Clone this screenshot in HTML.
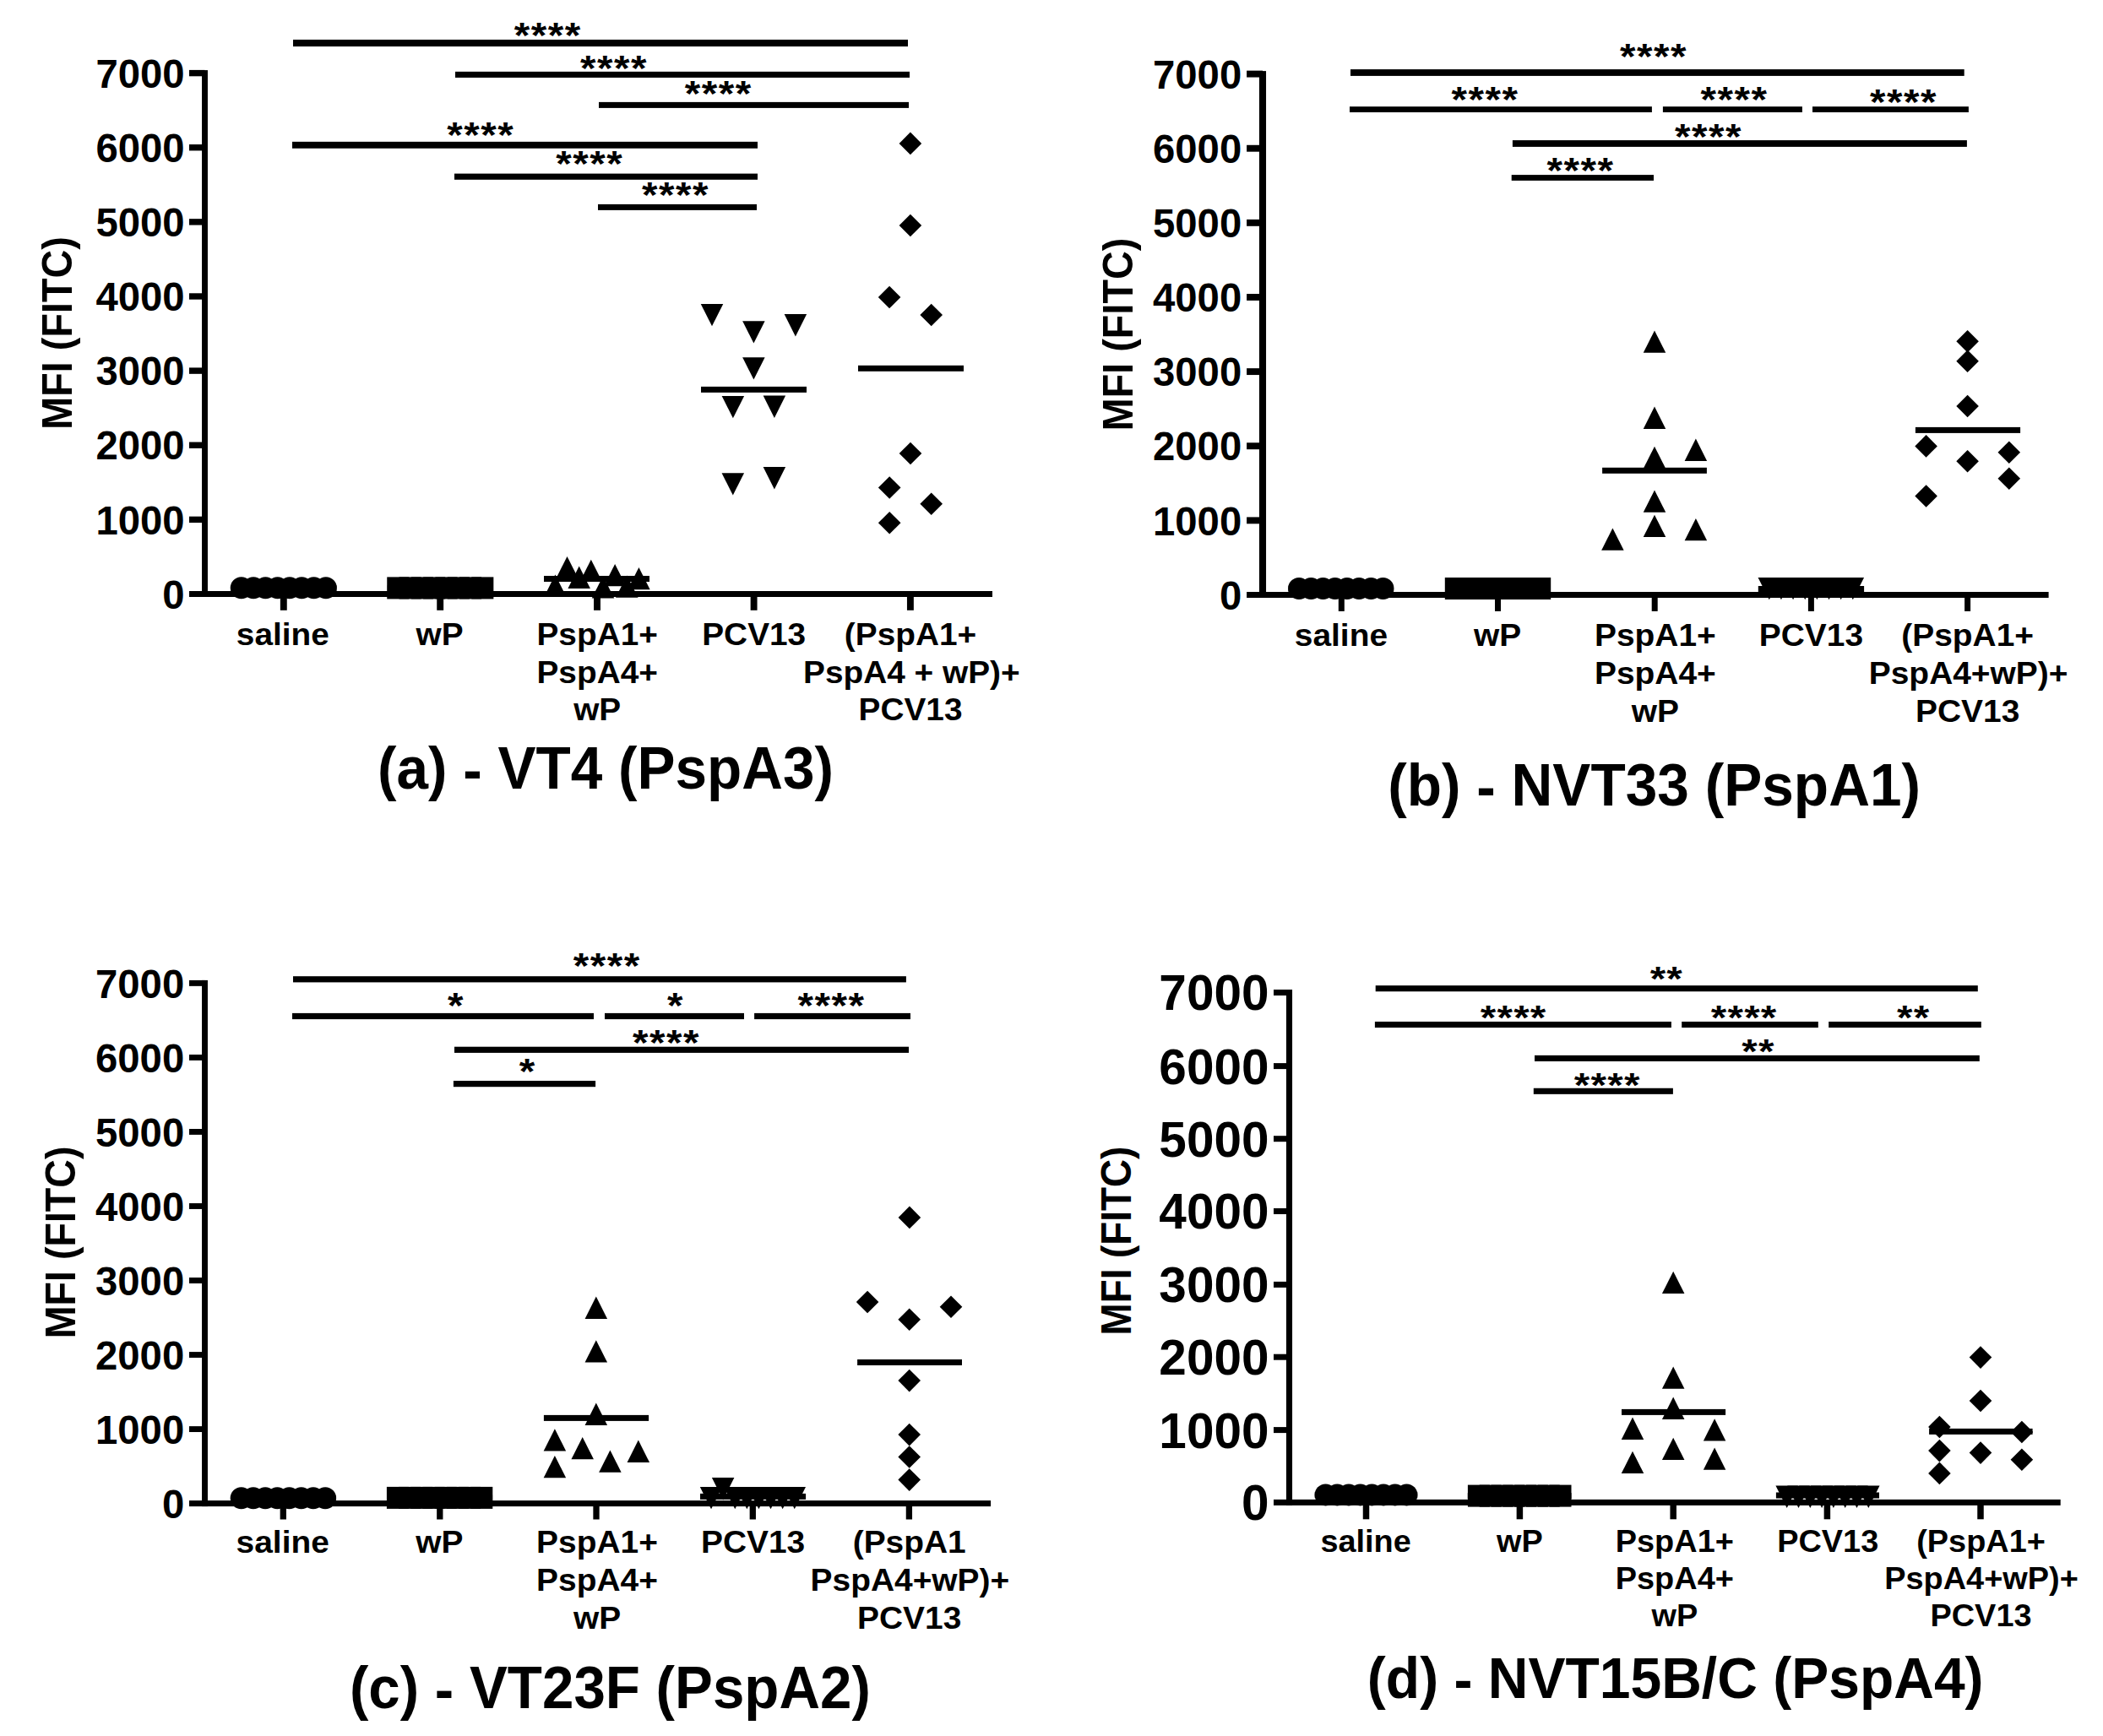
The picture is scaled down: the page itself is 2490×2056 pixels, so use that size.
<!DOCTYPE html>
<html lang="en">
<head>
<meta charset="utf-8">
<title>MFI (FITC) - PspA binding figure</title>
<style>
html,body{margin:0;padding:0;background:#fff;}
body{width:2490px;height:2056px;overflow:hidden;}
svg{display:block;}
svg text{font-family:"Liberation Sans", sans-serif;font-weight:700;fill:#000;}
</style>
</head>
<body>
<svg width="2490" height="2056" viewBox="0 0 2490 2056" fill="#000" shape-rendering="geometricPrecision">
<rect x="0" y="0" width="2490" height="2056" fill="#fff"/>
<g>
<rect x="239.05" y="83.1" width="6.9" height="623.9"/>
<rect x="224" y="700" width="951" height="7"/>
<text transform="translate(218.6 720.73) scale(1 1.0280)" font-size="47.3" text-anchor="end">0</text>
<rect x="224" y="611.67" width="18.5" height="7.4"/>
<text transform="translate(218.6 632.6) scale(1 1.0280)" font-size="47.3" text-anchor="end">1000</text>
<rect x="224" y="523.54" width="18.5" height="7.4"/>
<text transform="translate(218.6 544.47) scale(1 1.0280)" font-size="47.3" text-anchor="end">2000</text>
<rect x="224" y="435.41" width="18.5" height="7.4"/>
<text transform="translate(218.6 456.34) scale(1 1.0280)" font-size="47.3" text-anchor="end">3000</text>
<rect x="224" y="347.29" width="18.5" height="7.4"/>
<text transform="translate(218.6 368.21) scale(1 1.0280)" font-size="47.3" text-anchor="end">4000</text>
<rect x="224" y="259.16" width="18.5" height="7.4"/>
<text transform="translate(218.6 280.08) scale(1 1.0280)" font-size="47.3" text-anchor="end">5000</text>
<rect x="224" y="171.03" width="18.5" height="7.4"/>
<text transform="translate(218.6 191.96) scale(1 1.0280)" font-size="47.3" text-anchor="end">6000</text>
<rect x="224" y="82.9" width="18.5" height="7.4"/>
<text transform="translate(218.6 103.83) scale(1 1.0280)" font-size="47.3" text-anchor="end">7000</text>
<rect x="331.85" y="703.5" width="7.9" height="19.3"/>
<rect x="517.25" y="703.5" width="7.9" height="19.3"/>
<rect x="703.05" y="703.5" width="7.9" height="19.3"/>
<rect x="888.65" y="703.5" width="7.9" height="19.3"/>
<rect x="1073.95" y="703.5" width="7.9" height="19.3"/>
<text transform="translate(84.8 394.4) rotate(-90) scale(1 1.0750)" font-size="46.8" text-anchor="middle">MFI (FITC)</text>
<text transform="translate(334.8 763.9) scale(1 0.9700)" font-size="38.8" text-anchor="middle">saline</text>
<text transform="translate(520.6 763.9) scale(1 0.9700)" font-size="38.8" text-anchor="middle">wP</text>
<text transform="translate(707.2 763.9) scale(1 0.9700)" font-size="38.8" text-anchor="middle">PspA1+</text>
<text transform="translate(707.2 808.6) scale(1 0.9700)" font-size="38.8" text-anchor="middle">PspA4+</text>
<text transform="translate(707.2 853.3) scale(1 0.9700)" font-size="38.8" text-anchor="middle">wP</text>
<text transform="translate(892.7 763.9) scale(1 0.9700)" font-size="38.8" text-anchor="middle">PCV13</text>
<text transform="translate(1078 763.9) scale(1 0.9700)" font-size="38.8" text-anchor="middle">(PspA1+</text>
<text transform="translate(1079.4 808.6) scale(1 0.9700)" font-size="38.8" text-anchor="middle">PspA4 + wP)+</text>
<text transform="translate(1078 853.3) scale(1 0.9700)" font-size="38.8" text-anchor="middle">PCV13</text>
<text transform="translate(717 933.8) scale(1 1.0450)" font-size="67.5" text-anchor="middle">(a) <tspan dy="2.2">-</tspan><tspan dy="-2.2"> </tspan>VT4 (PspA3)</text>
<rect x="347" y="46.95" width="728" height="8.1"/>
<rect x="539" y="84.85" width="538" height="7.1"/>
<rect x="709" y="120.9" width="367" height="7"/>
<rect x="346" y="167.85" width="551" height="7.9"/>
<rect x="538" y="205.6" width="359" height="7.2"/>
<rect x="708" y="241.9" width="188" height="7"/>
<text transform="translate(608.71 56.16) scale(1 0.9100)" font-size="47.5" text-anchor="start" letter-spacing="1.51">****</text>
<text transform="translate(687.01 95.16) scale(1 0.9100)" font-size="47.5" text-anchor="start" letter-spacing="1.51">****</text>
<text transform="translate(810.81 125.46) scale(1 0.9100)" font-size="47.5" text-anchor="start" letter-spacing="1.51">****</text>
<text transform="translate(529.31 174.46) scale(1 0.9100)" font-size="47.5" text-anchor="start" letter-spacing="1.51">****</text>
<text transform="translate(658.21 208.46) scale(1 0.9100)" font-size="47.5" text-anchor="start" letter-spacing="1.51">****</text>
<text transform="translate(760.01 245.36) scale(1 0.9100)" font-size="47.5" text-anchor="start" letter-spacing="1.51">****</text>
<rect x="273.3" y="693.2" width="125" height="7"/>
<rect x="458.8" y="693.2" width="125" height="7"/>
<rect x="644" y="682" width="125" height="7"/>
<rect x="830" y="457.9" width="125" height="7"/>
<rect x="1016" y="432.8" width="125" height="7"/>
<circle cx="285.75" cy="696.3" r="13"/>
<circle cx="300.05" cy="696.3" r="13"/>
<circle cx="314.35" cy="696.3" r="13"/>
<circle cx="328.65" cy="696.3" r="13"/>
<circle cx="342.95" cy="696.3" r="13"/>
<circle cx="357.25" cy="696.3" r="13"/>
<circle cx="371.55" cy="696.3" r="13"/>
<circle cx="385.85" cy="696.3" r="13"/>
<rect x="458.25" y="683.4" width="26" height="26"/>
<rect x="472.55" y="683.4" width="26" height="26"/>
<rect x="486.85" y="683.4" width="26" height="26"/>
<rect x="501.15" y="683.4" width="26" height="26"/>
<rect x="515.45" y="683.4" width="26" height="26"/>
<rect x="529.75" y="683.4" width="26" height="26"/>
<rect x="544.05" y="683.4" width="26" height="26"/>
<rect x="558.35" y="683.4" width="26" height="26"/>
<path d="M657.38 680.6L670.62 706.9H644.12Z"/>
<path d="M671.52 658.9L684.77 685.2H658.27Z"/>
<path d="M685.67 670.6L698.92 696.9H672.42Z"/>
<path d="M699.82 662.8L713.07 689.1H686.57Z"/>
<path d="M713.98 682.3L727.23 708.6H700.73Z"/>
<path d="M728.12 668L741.38 694.3H714.88Z"/>
<path d="M742.27 681.5L755.52 707.8H729.02Z"/>
<path d="M756.42 671.9L769.67 698.2H743.17Z"/>
<path d="M829.75 360H856.25L843 386.3Z"/>
<path d="M879.15 380.2H905.65L892.4 406.5Z"/>
<path d="M928.65 372.1H955.15L941.9 398.4Z"/>
<path d="M879.15 423.3H905.65L892.4 449.6Z"/>
<path d="M854.65 469H881.15L867.9 495.3Z"/>
<path d="M903.65 468.6H930.15L916.9 494.9Z"/>
<path d="M854.55 560.3H881.05L867.8 586.6Z"/>
<path d="M903.65 553.1H930.15L916.9 579.4Z"/>
<path d="M1077.9 156.6L1091.2 169.9L1077.9 183.2L1064.6 169.9Z"/>
<path d="M1077.9 253.7L1091.2 267L1077.9 280.3L1064.6 267Z"/>
<path d="M1053.1 338.7L1066.4 352L1053.1 365.3L1039.8 352Z"/>
<path d="M1102.7 359.7L1116 373L1102.7 386.3L1089.4 373Z"/>
<path d="M1078 523.7L1091.3 537L1078 550.3L1064.7 537Z"/>
<path d="M1053.2 564.2L1066.5 577.5L1053.2 590.8L1039.9 577.5Z"/>
<path d="M1102.7 583.5L1116 596.8L1102.7 610.1L1089.4 596.8Z"/>
<path d="M1053.2 606L1066.5 619.3L1053.2 632.6L1039.9 619.3Z"/>
</g>
<g>
<rect x="1490.95" y="84.1" width="8.1" height="623.9"/>
<rect x="1476.1" y="701" width="949.5" height="7"/>
<text transform="translate(1470.2 721.73) scale(1 1.0280)" font-size="47.3" text-anchor="end">0</text>
<rect x="1476.1" y="612.42" width="18.9" height="7.9"/>
<text transform="translate(1470.2 633.6) scale(1 1.0280)" font-size="47.3" text-anchor="end">1000</text>
<rect x="1476.1" y="524.29" width="18.9" height="7.9"/>
<text transform="translate(1470.2 545.47) scale(1 1.0280)" font-size="47.3" text-anchor="end">2000</text>
<rect x="1476.1" y="436.16" width="18.9" height="7.9"/>
<text transform="translate(1470.2 457.34) scale(1 1.0280)" font-size="47.3" text-anchor="end">3000</text>
<rect x="1476.1" y="348.04" width="18.9" height="7.9"/>
<text transform="translate(1470.2 369.21) scale(1 1.0280)" font-size="47.3" text-anchor="end">4000</text>
<rect x="1476.1" y="259.91" width="18.9" height="7.9"/>
<text transform="translate(1470.2 281.08) scale(1 1.0280)" font-size="47.3" text-anchor="end">5000</text>
<rect x="1476.1" y="171.78" width="18.9" height="7.9"/>
<text transform="translate(1470.2 192.96) scale(1 1.0280)" font-size="47.3" text-anchor="end">6000</text>
<rect x="1476.1" y="83.65" width="18.9" height="7.9"/>
<text transform="translate(1470.2 104.83) scale(1 1.0280)" font-size="47.3" text-anchor="end">7000</text>
<rect x="1584.8" y="704.5" width="7" height="19.4"/>
<rect x="1770" y="704.5" width="7" height="19.4"/>
<rect x="1955.7" y="704.5" width="7" height="19.4"/>
<rect x="2140.9" y="704.5" width="7" height="19.4"/>
<rect x="2326.1" y="704.5" width="7" height="19.4"/>
<text transform="translate(1340.9 396) rotate(-90) scale(1 1.0750)" font-size="46.8" text-anchor="middle">MFI (FITC)</text>
<text transform="translate(1587.9 764.5) scale(1 0.9700)" font-size="38.9" text-anchor="middle">saline</text>
<text transform="translate(1773.2 764.5) scale(1 0.9700)" font-size="38.9" text-anchor="middle">wP</text>
<text transform="translate(1959.9 764.5) scale(1 0.9700)" font-size="38.9" text-anchor="middle">PspA1+</text>
<text transform="translate(1959.9 809.6) scale(1 0.9700)" font-size="38.9" text-anchor="middle">PspA4+</text>
<text transform="translate(1959.9 854.7) scale(1 0.9700)" font-size="38.9" text-anchor="middle">wP</text>
<text transform="translate(2144.4 764.5) scale(1 0.9700)" font-size="38.9" text-anchor="middle">PCV13</text>
<text transform="translate(2329.7 764.5) scale(1 0.9700)" font-size="38.9" text-anchor="middle">(PspA1+</text>
<text transform="translate(2330.6 809.6) scale(1 0.9700)" font-size="38.9" text-anchor="middle">PspA4+wP)+</text>
<text transform="translate(2329.7 854.7) scale(1 0.9700)" font-size="38.9" text-anchor="middle">PCV13</text>
<text transform="translate(1958.6 953.8) scale(1 1.0450)" font-size="67.6" text-anchor="middle">(b) <tspan dy="2.2">-</tspan><tspan dy="-2.2"> </tspan>NVT33 (PspA1)</text>
<rect x="1599" y="82.1" width="726.7" height="7.8"/>
<rect x="1598" y="126.2" width="357.9" height="6.8"/>
<rect x="1968.9" y="126.2" width="165" height="6.8"/>
<rect x="2146" y="126.2" width="184.9" height="6.8"/>
<rect x="1790.9" y="166.1" width="538" height="7.8"/>
<rect x="1789.7" y="207.1" width="168.3" height="6.8"/>
<text transform="translate(1918.11 81.06) scale(1 0.9100)" font-size="47.5" text-anchor="start" letter-spacing="1.51">****</text>
<text transform="translate(1718.51 132.36) scale(1 0.9100)" font-size="47.5" text-anchor="start" letter-spacing="1.51">****</text>
<text transform="translate(2013.51 132.36) scale(1 0.9100)" font-size="47.5" text-anchor="start" letter-spacing="1.51">****</text>
<text transform="translate(2213.91 135.06) scale(1 0.9100)" font-size="47.5" text-anchor="start" letter-spacing="1.51">****</text>
<text transform="translate(1982.91 176.36) scale(1 0.9100)" font-size="47.5" text-anchor="start" letter-spacing="1.51">****</text>
<text transform="translate(1831.41 216.36) scale(1 0.9100)" font-size="47.5" text-anchor="start" letter-spacing="1.51">****</text>
<rect x="1525.5" y="693.5" width="124.5" height="7"/>
<rect x="1711.3" y="693.5" width="124.4" height="7"/>
<rect x="1897.1" y="553.8" width="123.8" height="7"/>
<rect x="2081.8" y="694" width="125.3" height="7"/>
<rect x="2267.9" y="505.9" width="124.2" height="7"/>
<circle cx="1538.1" cy="697" r="13"/>
<circle cx="1552.3" cy="697" r="13"/>
<circle cx="1566.5" cy="697" r="13"/>
<circle cx="1580.7" cy="697" r="13"/>
<circle cx="1594.9" cy="697" r="13"/>
<circle cx="1609.1" cy="697" r="13"/>
<circle cx="1623.3" cy="697" r="13"/>
<circle cx="1637.5" cy="697" r="13"/>
<rect x="1710.8" y="684" width="26" height="26"/>
<rect x="1725" y="684" width="26" height="26"/>
<rect x="1739.2" y="684" width="26" height="26"/>
<rect x="1753.4" y="684" width="26" height="26"/>
<rect x="1767.6" y="684" width="26" height="26"/>
<rect x="1781.8" y="684" width="26" height="26"/>
<rect x="1796" y="684" width="26" height="26"/>
<rect x="1810.2" y="684" width="26" height="26"/>
<path d="M1959 391.5L1972.25 417.8H1945.75Z"/>
<path d="M1959 481.6L1972.25 507.9H1945.75Z"/>
<path d="M2007.9 519.6L2021.15 545.9H1994.65Z"/>
<path d="M1959 528.7L1972.25 555H1945.75Z"/>
<path d="M1959 580.5L1972.25 606.8H1945.75Z"/>
<path d="M1959 609.7L1972.25 636H1945.75Z"/>
<path d="M2007.9 613.9L2021.15 640.2H1994.65Z"/>
<path d="M1909.4 625.5L1922.65 651.8H1896.15Z"/>
<path d="M2081.53 684H2108.03L2094.78 710.3Z"/>
<path d="M2095.68 684H2122.18L2108.93 710.3Z"/>
<path d="M2109.83 684H2136.33L2123.08 710.3Z"/>
<path d="M2123.98 684H2150.48L2137.23 710.3Z"/>
<path d="M2138.12 684H2164.62L2151.38 710.3Z"/>
<path d="M2152.28 684H2178.78L2165.53 710.3Z"/>
<path d="M2166.43 684H2192.93L2179.68 710.3Z"/>
<path d="M2180.58 684H2207.08L2193.83 710.3Z"/>
<path d="M2329.6 391L2342.9 404.3L2329.6 417.6L2316.3 404.3Z"/>
<path d="M2329.6 414.5L2342.9 427.8L2329.6 441.1L2316.3 427.8Z"/>
<path d="M2329.6 467.7L2342.9 481L2329.6 494.3L2316.3 481Z"/>
<path d="M2280.6 515.1L2293.9 528.4L2280.6 541.7L2267.3 528.4Z"/>
<path d="M2378.8 522.5L2392.1 535.8L2378.8 549.1L2365.5 535.8Z"/>
<path d="M2329.6 533L2342.9 546.3L2329.6 559.6L2316.3 546.3Z"/>
<path d="M2378.8 553.4L2392.1 566.7L2378.8 580L2365.5 566.7Z"/>
<path d="M2280.6 574.2L2293.9 587.5L2280.6 600.8L2267.3 587.5Z"/>
</g>
<g>
<rect x="239.05" y="1160.9" width="6.9" height="623.2"/>
<rect x="224" y="1777.1" width="949.1" height="7"/>
<text transform="translate(218.2 1797.83) scale(1 1.0280)" font-size="47.3" text-anchor="end">0</text>
<rect x="224" y="1689.12" width="18.5" height="6.9"/>
<text transform="translate(218.2 1709.8) scale(1 1.0280)" font-size="47.3" text-anchor="end">1000</text>
<rect x="224" y="1601.09" width="18.5" height="6.9"/>
<text transform="translate(218.2 1621.77) scale(1 1.0280)" font-size="47.3" text-anchor="end">2000</text>
<rect x="224" y="1513.06" width="18.5" height="6.9"/>
<text transform="translate(218.2 1533.74) scale(1 1.0280)" font-size="47.3" text-anchor="end">3000</text>
<rect x="224" y="1425.04" width="18.5" height="6.9"/>
<text transform="translate(218.2 1445.71) scale(1 1.0280)" font-size="47.3" text-anchor="end">4000</text>
<rect x="224" y="1337.01" width="18.5" height="6.9"/>
<text transform="translate(218.2 1357.68) scale(1 1.0280)" font-size="47.3" text-anchor="end">5000</text>
<rect x="224" y="1248.98" width="18.5" height="6.9"/>
<text transform="translate(218.2 1269.66) scale(1 1.0280)" font-size="47.3" text-anchor="end">6000</text>
<rect x="224" y="1160.95" width="18.5" height="6.9"/>
<text transform="translate(218.2 1181.63) scale(1 1.0280)" font-size="47.3" text-anchor="end">7000</text>
<rect x="331.65" y="1780.6" width="7.3" height="18.9"/>
<rect x="517.15" y="1780.6" width="7.3" height="18.9"/>
<rect x="702.35" y="1780.6" width="7.3" height="18.9"/>
<rect x="887.65" y="1780.6" width="7.3" height="18.9"/>
<rect x="1072.75" y="1780.6" width="7.3" height="18.9"/>
<text transform="translate(88.8 1471.4) rotate(-90) scale(1 1.0750)" font-size="46.6" text-anchor="middle">MFI (FITC)</text>
<text transform="translate(334.7 1839.3) scale(1 0.9700)" font-size="38.9" text-anchor="middle">saline</text>
<text transform="translate(520.3 1839.3) scale(1 0.9700)" font-size="38.9" text-anchor="middle">wP</text>
<text transform="translate(707 1839.3) scale(1 0.9700)" font-size="38.9" text-anchor="middle">PspA1+</text>
<text transform="translate(707 1884) scale(1 0.9700)" font-size="38.9" text-anchor="middle">PspA4+</text>
<text transform="translate(707 1928.7) scale(1 0.9700)" font-size="38.9" text-anchor="middle">wP</text>
<text transform="translate(891.6 1839.3) scale(1 0.9700)" font-size="38.9" text-anchor="middle">PCV13</text>
<text transform="translate(1076.7 1839.3) scale(1 0.9700)" font-size="38.9" text-anchor="middle">(PspA1</text>
<text transform="translate(1077.4 1884) scale(1 0.9700)" font-size="38.9" text-anchor="middle">PspA4+wP)+</text>
<text transform="translate(1076.7 1928.7) scale(1 0.9700)" font-size="38.9" text-anchor="middle">PCV13</text>
<text transform="translate(722.4 2023) scale(1 1.0450)" font-size="67.3" text-anchor="middle">(c) <tspan dy="2.2">-</tspan><tspan dy="-2.2"> </tspan>VT23F (PspA2)</text>
<rect x="347" y="1156.2" width="725.9" height="7.2"/>
<rect x="346" y="1199.9" width="357" height="7.2"/>
<rect x="716" y="1199.9" width="165" height="7.2"/>
<rect x="893.1" y="1199.9" width="184.9" height="7.2"/>
<rect x="538" y="1239.7" width="538" height="7.2"/>
<rect x="536.9" y="1280" width="168.2" height="7.2"/>
<text transform="translate(678.71 1158.06) scale(1 0.9100)" font-size="47.5" text-anchor="start" letter-spacing="1.51">****</text>
<text transform="translate(530.01 1205.36) scale(1 0.9100)" font-size="47.5" text-anchor="start" letter-spacing="1.51">*</text>
<text transform="translate(790.01 1205.16) scale(1 0.9100)" font-size="47.5" text-anchor="start" letter-spacing="1.51">*</text>
<text transform="translate(944.61 1205.36) scale(1 0.9100)" font-size="47.5" text-anchor="start" letter-spacing="1.51">****</text>
<text transform="translate(749.01 1248.96) scale(1 0.9100)" font-size="47.5" text-anchor="start" letter-spacing="1.51">****</text>
<text transform="translate(614.81 1283.36) scale(1 0.9100)" font-size="47.5" text-anchor="start" letter-spacing="1.51">*</text>
<rect x="273.4" y="1770.8" width="124" height="7"/>
<rect x="458.1" y="1770.5" width="125" height="7"/>
<rect x="643.9" y="1675.9" width="124.2" height="7"/>
<rect x="829" y="1768.9" width="125.1" height="7"/>
<rect x="1015.1" y="1610" width="123.9" height="7"/>
<circle cx="285.7" cy="1774.3" r="13"/>
<circle cx="299.9" cy="1774.3" r="13"/>
<circle cx="314.1" cy="1774.3" r="13"/>
<circle cx="328.3" cy="1774.3" r="13"/>
<circle cx="342.5" cy="1774.3" r="13"/>
<circle cx="356.7" cy="1774.3" r="13"/>
<circle cx="370.9" cy="1774.3" r="13"/>
<circle cx="385.1" cy="1774.3" r="13"/>
<rect x="457.9" y="1760.9" width="26" height="26"/>
<rect x="472.1" y="1760.9" width="26" height="26"/>
<rect x="486.3" y="1760.9" width="26" height="26"/>
<rect x="500.5" y="1760.9" width="26" height="26"/>
<rect x="514.7" y="1760.9" width="26" height="26"/>
<rect x="528.9" y="1760.9" width="26" height="26"/>
<rect x="543.1" y="1760.9" width="26" height="26"/>
<rect x="557.3" y="1760.9" width="26" height="26"/>
<path d="M705.8 1535.6L719.05 1561.9H692.55Z"/>
<path d="M705.8 1587.3L719.05 1613.6H692.55Z"/>
<path d="M705.8 1661.6L719.05 1687.9H692.55Z"/>
<path d="M656.9 1692.2L670.15 1718.5H643.65Z"/>
<path d="M689.7 1702L702.95 1728.3H676.45Z"/>
<path d="M755.8 1705.6L769.05 1731.9H742.55Z"/>
<path d="M722.4 1717.5L735.65 1743.8H709.15Z"/>
<path d="M656.9 1723.9L670.15 1750.2H643.65Z"/>
<path d="M828.8 1761H855.3L842.05 1787.3Z"/>
<path d="M842.9 1750.1H869.4L856.15 1776.4Z"/>
<path d="M857 1761H883.5L870.25 1787.3Z"/>
<path d="M871.1 1761H897.6L884.35 1787.3Z"/>
<path d="M885.2 1761H911.7L898.45 1787.3Z"/>
<path d="M899.3 1761H925.8L912.55 1787.3Z"/>
<path d="M913.4 1761H939.9L926.65 1787.3Z"/>
<path d="M927.5 1761H954L940.75 1787.3Z"/>
<path d="M1076.9 1428.6L1090.2 1441.9L1076.9 1455.2L1063.6 1441.9Z"/>
<path d="M1027.1 1528.7L1040.4 1542L1027.1 1555.3L1013.8 1542Z"/>
<path d="M1126 1534.5L1139.3 1547.8L1126 1561.1L1112.7 1547.8Z"/>
<path d="M1076.7 1549.4L1090 1562.7L1076.7 1576L1063.4 1562.7Z"/>
<path d="M1076.7 1621.8L1090 1635.1L1076.7 1648.4L1063.4 1635.1Z"/>
<path d="M1076.7 1685.8L1090 1699.1L1076.7 1712.4L1063.4 1699.1Z"/>
<path d="M1076.7 1712.2L1090 1725.5L1076.7 1738.8L1063.4 1725.5Z"/>
<path d="M1076.7 1739.3L1090 1752.6L1076.7 1765.9L1063.4 1752.6Z"/>
</g>
<g>
<rect x="1522.95" y="1172" width="7.1" height="610.9"/>
<rect x="1508" y="1775.9" width="931.7" height="7"/>
<text transform="translate(1502.5 1800.33) scale(1 1.0150)" font-size="58.5" text-anchor="end">0</text>
<rect x="1508" y="1690.1" width="18.5" height="7"/>
<text transform="translate(1502.5 1714.53) scale(1 1.0150)" font-size="58.5" text-anchor="end">1000</text>
<rect x="1508" y="1603.7" width="18.5" height="7"/>
<text transform="translate(1502.5 1628.13) scale(1 1.0150)" font-size="58.5" text-anchor="end">2000</text>
<rect x="1508" y="1517.9" width="18.5" height="7"/>
<text transform="translate(1502.5 1542.33) scale(1 1.0150)" font-size="58.5" text-anchor="end">3000</text>
<rect x="1508" y="1431" width="18.5" height="7"/>
<text transform="translate(1502.5 1455.43) scale(1 1.0150)" font-size="58.5" text-anchor="end">4000</text>
<rect x="1508" y="1345.2" width="18.5" height="7"/>
<text transform="translate(1502.5 1369.63) scale(1 1.0150)" font-size="58.5" text-anchor="end">5000</text>
<rect x="1508" y="1259.1" width="18.5" height="7"/>
<text transform="translate(1502.5 1283.53) scale(1 1.0150)" font-size="58.5" text-anchor="end">6000</text>
<rect x="1508" y="1172" width="18.5" height="7"/>
<text transform="translate(1502.5 1196.43) scale(1 1.0150)" font-size="58.5" text-anchor="end">7000</text>
<rect x="1613.75" y="1779.4" width="7.5" height="19.9"/>
<rect x="1795.65" y="1779.4" width="7.5" height="19.9"/>
<rect x="1977.45" y="1779.4" width="7.5" height="19.9"/>
<rect x="2159.65" y="1779.4" width="7.5" height="19.9"/>
<rect x="2341.25" y="1779.4" width="7.5" height="19.9"/>
<text transform="translate(1339.2 1469.6) rotate(-90) scale(1 1.0750)" font-size="45.8" text-anchor="middle">MFI (FITC)</text>
<text transform="translate(1617.1 1838.2) scale(1 0.9700)" font-size="37.9" text-anchor="middle">saline</text>
<text transform="translate(1799.3 1838.2) scale(1 0.9700)" font-size="37.9" text-anchor="middle">wP</text>
<text transform="translate(1982.8 1838.2) scale(1 0.9700)" font-size="37.9" text-anchor="middle">PspA1+</text>
<text transform="translate(1982.8 1882) scale(1 0.9700)" font-size="37.9" text-anchor="middle">PspA4+</text>
<text transform="translate(1982.8 1925.8) scale(1 0.9700)" font-size="37.9" text-anchor="middle">wP</text>
<text transform="translate(2164.2 1838.2) scale(1 0.9700)" font-size="37.9" text-anchor="middle">PCV13</text>
<text transform="translate(2345.5 1838.2) scale(1 0.9700)" font-size="37.9" text-anchor="middle">(PspA1+</text>
<text transform="translate(2346 1882) scale(1 0.9700)" font-size="37.9" text-anchor="middle">PspA4+wP)+</text>
<text transform="translate(2345.5 1925.8) scale(1 0.9700)" font-size="37.9" text-anchor="middle">PCV13</text>
<text transform="translate(1983.7 2010.6) scale(1 1.0450)" font-size="66" text-anchor="middle">(d) <tspan dy="2.2">-</tspan><tspan dy="-2.2"> </tspan>NVT15B/C (PspA4)</text>
<rect x="1628.7" y="1167.15" width="713.1" height="7.1"/>
<rect x="1627.9" y="1209.95" width="351" height="7.1"/>
<rect x="1991.2" y="1209.95" width="161.6" height="7.1"/>
<rect x="2165.2" y="1209.95" width="180.6" height="7.1"/>
<rect x="1817" y="1249.85" width="526.8" height="7.1"/>
<rect x="1815.8" y="1288.75" width="165.1" height="7.1"/>
<text transform="translate(1953.66 1173.03) scale(1 0.8550)" font-size="47.5" text-anchor="start" letter-spacing="1.21">**</text>
<text transform="translate(1752.76 1218.53) scale(1 0.8550)" font-size="47.5" text-anchor="start" letter-spacing="1.21">****</text>
<text transform="translate(2025.76 1218.53) scale(1 0.8550)" font-size="47.5" text-anchor="start" letter-spacing="1.21">****</text>
<text transform="translate(2245.96 1218.53) scale(1 0.8550)" font-size="47.5" text-anchor="start" letter-spacing="1.21">**</text>
<text transform="translate(2062.36 1258.83) scale(1 0.8550)" font-size="47.5" text-anchor="start" letter-spacing="1.21">**</text>
<text transform="translate(1863.86 1298.53) scale(1 0.8550)" font-size="47.5" text-anchor="start" letter-spacing="1.21">****</text>
<rect x="1556.8" y="1766.9" width="121.4" height="7"/>
<rect x="1737.8" y="1768.1" width="122.7" height="7"/>
<rect x="1920" y="1668.9" width="123.1" height="7"/>
<rect x="2102.9" y="1767.5" width="122.1" height="7"/>
<rect x="2284.1" y="1691.9" width="122.5" height="7"/>
<circle cx="1569.55" cy="1770.4" r="13"/>
<circle cx="1583.25" cy="1770.4" r="13"/>
<circle cx="1596.95" cy="1770.4" r="13"/>
<circle cx="1610.65" cy="1770.4" r="13"/>
<circle cx="1624.35" cy="1770.4" r="13"/>
<circle cx="1638.05" cy="1770.4" r="13"/>
<circle cx="1651.75" cy="1770.4" r="13"/>
<circle cx="1665.45" cy="1770.4" r="13"/>
<rect x="1737.9" y="1758.6" width="26" height="26"/>
<rect x="1751.7" y="1758.6" width="26" height="26"/>
<rect x="1765.5" y="1758.6" width="26" height="26"/>
<rect x="1779.3" y="1758.6" width="26" height="26"/>
<rect x="1793.1" y="1758.6" width="26" height="26"/>
<rect x="1806.9" y="1758.6" width="26" height="26"/>
<rect x="1820.7" y="1758.6" width="26" height="26"/>
<rect x="1834.5" y="1758.6" width="26" height="26"/>
<path d="M1981.2 1505.7L1994.45 1532H1967.95Z"/>
<path d="M1981.2 1618.4L1994.45 1644.7H1967.95Z"/>
<path d="M1981.2 1654.6L1994.45 1680.9H1967.95Z"/>
<path d="M1933 1678.6L1946.25 1704.9H1919.75Z"/>
<path d="M2030.1 1680.3L2043.35 1706.6H2016.85Z"/>
<path d="M1981.2 1702.8L1994.45 1729.1H1967.95Z"/>
<path d="M2030.1 1714.5L2043.35 1740.8H2016.85Z"/>
<path d="M1933 1718.7L1946.25 1745H1919.75Z"/>
<path d="M2102.45 1759.6H2128.95L2115.7 1785.9Z"/>
<path d="M2116.25 1759.6H2142.75L2129.5 1785.9Z"/>
<path d="M2130.05 1759.6H2156.55L2143.3 1785.9Z"/>
<path d="M2143.85 1759.6H2170.35L2157.1 1785.9Z"/>
<path d="M2157.65 1759.6H2184.15L2170.9 1785.9Z"/>
<path d="M2171.45 1759.6H2197.95L2184.7 1785.9Z"/>
<path d="M2185.25 1759.6H2211.75L2198.5 1785.9Z"/>
<path d="M2199.05 1759.6H2225.55L2212.3 1785.9Z"/>
<path d="M2345 1594.3L2358.3 1607.6L2345 1620.9L2331.7 1607.6Z"/>
<path d="M2345 1645.7L2358.3 1659L2345 1672.3L2331.7 1659Z"/>
<path d="M2296.4 1676.7L2309.7 1690L2296.4 1703.3L2283.1 1690Z"/>
<path d="M2393.9 1682.7L2407.2 1696L2393.9 1709.3L2380.6 1696Z"/>
<path d="M2296.4 1704.8L2309.7 1718.1L2296.4 1731.4L2283.1 1718.1Z"/>
<path d="M2345 1707.3L2358.3 1720.6L2345 1733.9L2331.7 1720.6Z"/>
<path d="M2393.9 1715.4L2407.2 1728.7L2393.9 1742L2380.6 1728.7Z"/>
<path d="M2296.4 1731.6L2309.7 1744.9L2296.4 1758.2L2283.1 1744.9Z"/>
</g>
</svg>
</body>
</html>
